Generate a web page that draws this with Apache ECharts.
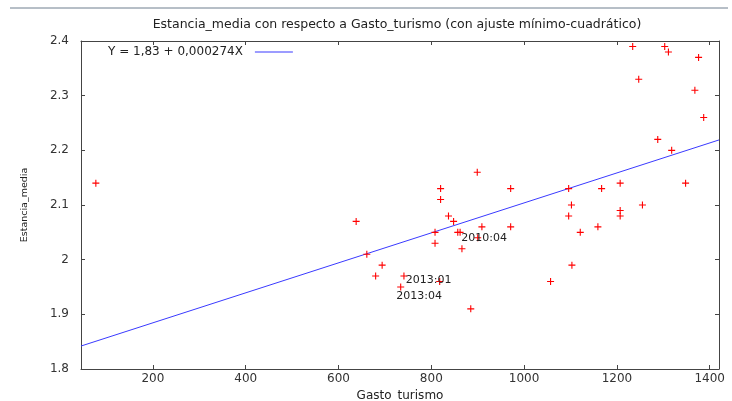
<!DOCTYPE html>
<html>
<head>
<meta charset="utf-8">
<script src="https://cdn.jsdelivr.net/npm/echarts@6/dist/echarts.min.js"></script>
<style>
html,body{margin:0;padding:0;background:#fff;}
#c{width:732px;height:401px;}
</style>
</head>
<body>
<div id="c"></div>
<script>
// Gasto_turismo (x) and Estancia_media (y)
var gastoTurismo = [77, 638, 661, 694, 680, 741, 734, 818, 808, 808, 820, 820, 837, 848, 857, 862, 866, 899, 909, 900, 885, 971, 971, 1057, 1096, 1102, 1096, 1121, 1103, 1167, 1159, 1207, 1207, 1207, 1255, 1348, 1234, 1303, 1311, 1376, 1247, 1368, 1387, 1288, 1318];
var estanciaMedia = [2.14, 2.07, 2.01, 1.99, 1.97, 1.97, 1.95, 1.96, 2.03, 2.05, 2.13, 2.11, 2.08, 2.07, 2.05, 2.05, 2.02, 2.16, 2.06, 2.04, 1.91, 2.13, 2.06, 1.96, 2.13, 2.10, 2.08, 2.05, 1.99, 2.13, 2.06, 2.14, 2.09, 2.08, 2.10, 2.14, 2.39, 2.39, 2.38, 2.37, 2.33, 2.31, 2.26, 2.22, 2.20];
// observation labels shown on the chart (index into the arrays above)
var obsLabelIndex = [19, 7, 6];
var obsLabelText = ['2010:04', '2013:01', '2013:04'];
// least-squares fit line endpoints (Y = 1,83 + 0,000274X)
var fitX = [45, 1420];
var fitY = [1.842, 2.219];
var fitName = 'Y = 1,83 + 0,000274X';
var xTicks = [200, 400, 600, 800, 1000, 1200, 1400];
var xRange = [45, 1420];
var yRange = [1.8, 2.4];
var yStep = 0.1;
var titleText = 'Estancia_media con respecto a Gasto_turismo (con ajuste mínimo-cuadrático)';
var xName = 'Gasto_turismo';
var yName = 'Estancia_media';

var FONT = 'DejaVu Sans';
var labelOffsets = {'2010:04': [6.5, 0], '2013:01': [-11, -1], '2013:04': [18.5, 9]};

var pts = gastoTurismo.map(function (x, i) {
  var item = {value: [x, estanciaMedia[i]]};
  var k = obsLabelIndex.indexOf(i);
  if (k >= 0) {
    var t = obsLabelText[k];
    item.label = {show: true, formatter: t, position: 'inside', offset: labelOffsets[t],
      color: '#222', fontFamily: FONT, fontSize: 11};
  }
  return item;
});
var fit = fitX.map(function (x, i) { return [x, fitY[i]]; });
function plain(v) { return String(Math.round(v * 1000) / 1000); }

var axisColor = '#444';
var chart = echarts.init(document.getElementById('c'), null, {renderer: 'canvas'});
chart.setOption({
  animation: false,
  backgroundColor: '#fff',
  title: {
    text: titleText, left: 392, top: 13, textAlign: 'center',
    textStyle: {fontFamily: FONT, fontSize: 12.5, fontWeight: 'normal', color: '#222'}
  },
  legend: {
    data: [fitName], left: 103, top: 41, align: 'right',
    icon: 'rect', itemWidth: 38, itemHeight: 1.2,
    textStyle: {fontFamily: FONT, fontSize: 12, color: '#222', padding: [0, 7, 0, 0]}
  },
  graphic: [{
    type: 'line', shape: {x1: 10, y1: 8, x2: 728, y2: 8},
    style: {stroke: '#6f7f8f', lineWidth: 1}
  }],
  grid: {left: 81, right: 13, top: 41, bottom: 32, containLabel: false, outerBoundsMode: 'none'},
  xAxis: [{
    type: 'value', position: 'bottom', min: xRange[0], max: xRange[1],
    name: xName, nameLocation: 'middle', nameGap: 16,
    nameTextStyle: {fontFamily: FONT, fontSize: 12, color: '#222'},
    axisLine: {lineStyle: {color: axisColor, width: 1}},
    axisTick: {inside: true, length: 4, customValues: xTicks, lineStyle: {color: axisColor}},
    axisLabel: {customValues: xTicks, formatter: plain, margin: 4, fontFamily: FONT, fontSize: 12, color: '#333'},
    splitLine: {show: false}
  }, {
    type: 'value', position: 'top', min: xRange[0], max: xRange[1],
    axisLine: {lineStyle: {color: axisColor, width: 1}},
    axisTick: {inside: true, length: 4, customValues: xTicks, lineStyle: {color: axisColor}},
    axisLabel: {show: false},
    splitLine: {show: false}
  }],
  yAxis: [{
    type: 'value', position: 'left', min: yRange[0], max: yRange[1], interval: yStep,
    name: yName, nameLocation: 'middle', nameGap: 51, nameRotate: 90,
    nameTextStyle: {fontFamily: FONT, fontSize: 9.5, color: '#222'},
    axisLine: {show: true, lineStyle: {color: axisColor, width: 1}},
    axisTick: {show: true, inside: true, length: 4, lineStyle: {color: axisColor}},
    axisLabel: {margin: 12, formatter: plain, fontFamily: FONT, fontSize: 12, color: '#333'},
    splitLine: {show: false}
  }, {
    type: 'value', position: 'right', min: yRange[0], max: yRange[1], interval: yStep,
    axisLine: {show: true, lineStyle: {color: axisColor, width: 1}},
    axisTick: {show: true, inside: true, length: 4, lineStyle: {color: axisColor}},
    axisLabel: {show: false},
    splitLine: {show: false}
  }],
  series: [{
    type: 'scatter', name: 'data', xAxisIndex: 0, yAxisIndex: 0,
    symbol: 'path://M0,5L10,5M5,0L5,10', symbolSize: 7,
    itemStyle: {color: 'transparent', borderColor: '#ff0000', borderWidth: 1.1, opacity: 1},
    emphasis: {disabled: true},
    data: pts, z: 3
  }, {
    type: 'line', name: fitName, xAxisIndex: 0, yAxisIndex: 0,
    showSymbol: false, symbol: 'none',
    lineStyle: {color: '#3a3aff', width: 1},
    itemStyle: {color: '#3a3aff'},
    data: fit, z: 2
  }]
});
</script>
</body>
</html>
